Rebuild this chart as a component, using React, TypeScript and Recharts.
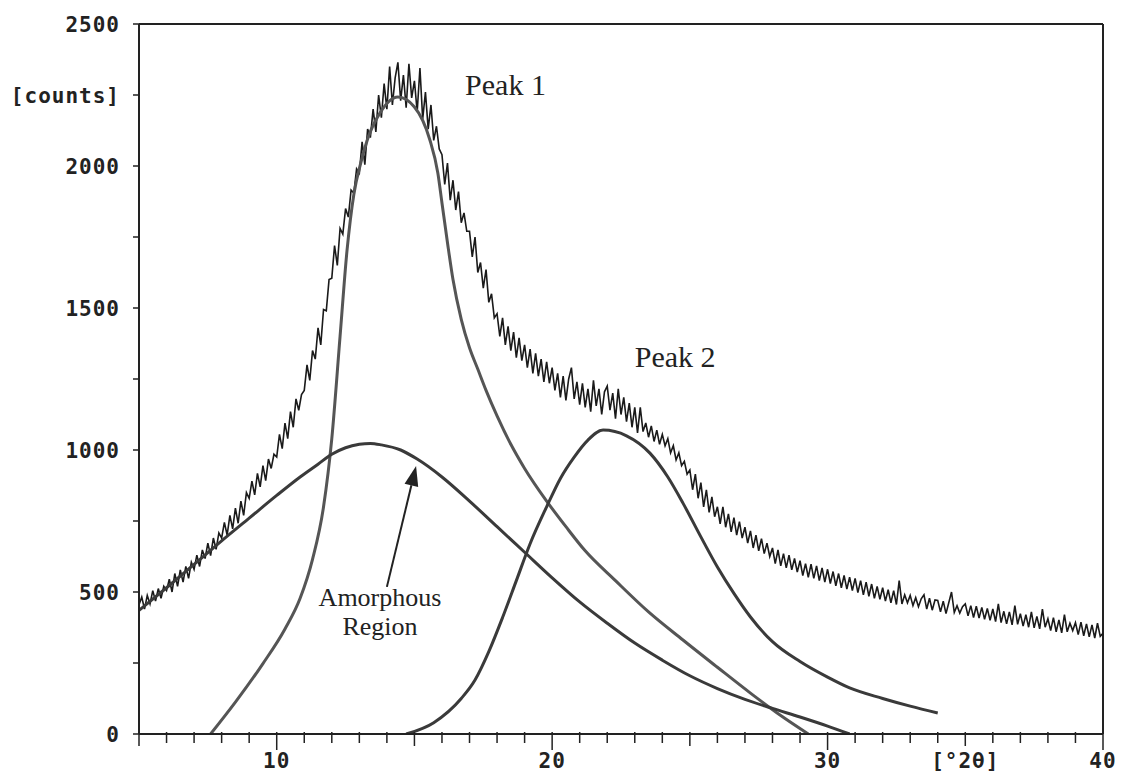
import React from 'react';
import { LineChart, Line, XAxis, YAxis, ReferenceLine, ReferenceDot } from 'recharts';

// measured scan, one value every 0.1 °2θ starting at 5
const SCAN_START = 5;
const SCAN_STEP = 0.1;
const SCAN_COUNTS = [
  455, 482, 440, 488, 458, 505, 468, 512, 478, 520,
  505, 545, 500, 565, 520, 578, 535, 590, 548, 605,
  580, 630, 590, 648, 618, 672, 628, 690, 650, 708,
  690, 745, 700, 770, 722, 795, 742, 820, 770, 850,
  830, 890, 842, 918, 870, 945, 892, 968, 935, 985,
  975, 1055, 1005, 1095, 1040, 1135, 1080, 1180, 1140, 1195,
  1210, 1300, 1245, 1350, 1320, 1430, 1370, 1495, 1490, 1600,
  1605, 1720, 1650, 1780, 1760, 1850, 1820, 1915, 1905, 1990,
  1975, 2085, 2005, 2130, 2100, 2200, 2120, 2250, 2170, 2290,
  2200, 2350, 2215, 2310, 2365, 2230, 2320, 2205, 2360, 2240,
  2300, 2190, 2345, 2165, 2260, 2130, 2215, 2090, 2140, 2060,
  2040, 1935, 2010, 1880, 1950, 1845, 1910, 1800, 1835, 1770,
  1770, 1680, 1750, 1625, 1660, 1570, 1635, 1520, 1550, 1465,
  1480, 1400, 1465, 1370, 1435, 1350, 1415, 1325, 1395, 1315,
  1370, 1290, 1355, 1270, 1340, 1260, 1320, 1240, 1310, 1235,
  1290, 1210, 1270, 1185, 1260, 1175, 1250, 1290, 1180, 1240,
  1160, 1235, 1150, 1215, 1135, 1245, 1155, 1215, 1125, 1205,
  1225, 1140, 1200, 1110, 1215, 1125, 1185, 1100, 1165, 1080,
  1150, 1060, 1150, 1065, 1095, 1045, 1085, 1030, 1070, 1020,
  1055, 1015, 1040, 990, 1015, 965, 990, 945, 960, 915,
  930, 860, 915, 830, 885, 800, 860, 780, 835, 765,
  800, 740, 800, 728, 775, 712, 762, 700, 748, 690,
  728, 672, 715, 655, 700, 645, 688, 635, 672, 625,
  655, 600, 648, 592, 635, 585, 630, 578, 618, 570,
  610, 558, 600, 552, 598, 548, 592, 540, 585, 535,
  580, 530, 572, 522, 565, 515, 558, 510, 552, 505,
  548, 498, 540, 490, 535, 485, 528, 478, 520, 474,
  515, 468, 508, 462, 505, 456, 540, 458, 490, 462,
  488, 452, 480, 448, 476, 490, 440, 478, 436, 472,
  470, 430, 468, 424, 462, 500, 428, 452, 426, 448,
  458, 416, 452, 410, 450, 408, 446, 404, 442, 400,
  440, 396, 458, 392, 432, 388, 430, 384, 452, 386,
  424, 380, 420, 376, 430, 374, 414, 370, 440, 376,
  406, 364, 410, 360, 402, 356, 420, 360, 390, 364,
  392, 350, 394, 346, 388, 342, 384, 338, 390, 344,
  355,
];

// fitted components [°2θ, counts]
const PEAK1 = [
  [7.6, 0], [8.5, 112], [9.5, 248], [10.3, 370], [10.85, 478], [11.3, 615],
  [11.7, 800], [12.0, 1040], [12.3, 1400], [12.55, 1700], [12.8, 1900],
  [13.05, 2010], [13.3, 2095], [13.75, 2187], [14.4, 2243], [15.0, 2208],
  [15.55, 2095], [15.85, 1975], [16.0, 1870], [16.2, 1730], [16.4, 1600],
  [16.7, 1460], [17.0, 1360], [17.3, 1285], [17.6, 1210], [18.0, 1120],
  [18.5, 1020], [19.0, 935], [19.8, 820], [20.5, 730], [21.2, 645],
  [22.3, 540], [23.5, 430], [24.75, 331], [26.0, 235], [27.2, 144],
  [28.3, 65], [29.3, 0],
];

const AMORPHOUS = [
  [5.0, 435], [6.0, 515], [7.0, 597], [8.0, 680], [9.0, 760], [10.0, 840],
  [10.85, 905], [11.5, 950], [12.0, 985], [12.5, 1008], [13.0, 1020],
  [13.4, 1023], [13.8, 1018], [14.5, 1000], [15.1, 968], [16.0, 905],
  [17.0, 820], [18.0, 730], [19.0, 640], [20.0, 550], [21.0, 465],
  [22.0, 390], [23.0, 320], [24.0, 260], [25.0, 205], [26.0, 160],
  [27.0, 122], [28.0, 90], [29.0, 60], [30.0, 28], [30.8, 0],
];

const PEAK2 = [
  [14.7, 0], [15.7, 40], [16.7, 125], [17.2, 190], [17.7, 290], [18.2, 410],
  [18.7, 540], [19.2, 670], [19.8, 800], [20.3, 900], [20.8, 975],
  [21.3, 1035], [21.85, 1070], [22.7, 1050], [23.55, 989], [24.2, 905],
  [24.75, 813], [25.4, 694], [26.0, 588], [26.6, 495], [27.2, 412],
  [28.0, 325], [29.0, 255], [30.0, 200], [30.8, 162], [32.0, 125],
  [33.0, 98], [34.0, 74],
];

const X_TICKS = [5, 6, 7, 8, 9, 10, 11, 12, 13, 14, 15, 16, 17, 18, 19, 20, 21, 22, 23, 24, 25,
  26, 27, 28, 29, 30, 31, 32, 33, 34, 35, 36, 37, 38, 39, 40];
const X_LABELS: Record<number, string> = { 10: '10', 20: '20', 30: '30', 35: '[°2θ]', 40: '40' };
const Y_TICKS = [0, 250, 500, 750, 1000, 1250, 1500, 1750, 2000, 2250, 2500];
const Y_LABELS: Record<number, string> = {
  0: '0', 500: '500', 1000: '1000', 1500: '1500', 2000: '2000', 2250: '[counts]', 2500: '2500',
};

const toPoints = (arr: number[][]) => arr.map(([x, y]) => ({ x, y }));
const scanData = SCAN_COUNTS.map((y, i) => ({ x: +(SCAN_START + i * SCAN_STEP).toFixed(1), y }));

const INK = '#222';
const MONO = '"DejaVu Sans Mono", monospace';
const SERIF = '"Liberation Serif", "Times New Roman", serif';

const XTick = (props: any) => {
  const { x, y, payload } = props;
  const v = payload.value;
  const len = v % 10 === 0 ? 16 : v % 5 === 0 ? 12 : 9;
  const label = X_LABELS[v];
  return (
    <g>
      <line x1={x} x2={x} y1={y - 2} y2={y + len} stroke={INK} strokeWidth={1.5} />
      {label && (
        <text x={x} y={y + 34} textAnchor="middle" fontFamily={MONO} fontWeight="bold"
          fontSize={21} letterSpacing={1} fill={INK}>{label}</text>
      )}
    </g>
  );
};

const YTick = (props: any) => {
  const { x, y, payload } = props;
  const label = Y_LABELS[payload.value];
  return (
    <g>
      <line x1={x - 6} x2={x} y1={y} y2={y} stroke={INK} strokeWidth={1.5} />
      {label && (
        <text x={x - 19} y={y} dy="0.36em" textAnchor="end" fontFamily={MONO} fontWeight="bold"
          fontSize={21} letterSpacing={1} fill={INK}>{label}</text>
      )}
    </g>
  );
};

const Arrow = (props: any) => {
  const { x1, y1, x2, y2 } = props;
  const a = Math.atan2(y2 - y1, x2 - x1);
  const hl = 20, hw = 7;
  const bx = x2 - hl * Math.cos(a), by = y2 - hl * Math.sin(a);
  const px = -Math.sin(a) * hw, py = Math.cos(a) * hw;
  return (
    <g>
      <line x1={x1} y1={y1} x2={bx} y2={by} stroke={INK} strokeWidth={2} />
      <polygon points={`${x2},${y2} ${bx + px},${by + py} ${bx - px},${by - py}`} fill={INK} />
    </g>
  );
};

const NOTES = [
  { text: 'Peak 1', x: 16.84, y: 2250, size: 30, anchor: 'start' },
  { text: 'Peak 2', x: 23.0, y: 1292, size: 30, anchor: 'start' },
  { text: 'Amorphous', x: 13.75, y: 451, size: 26, anchor: 'middle' },
  { text: 'Region', x: 13.75, y: 349, size: 26, anchor: 'middle' },
];

export default function App() {
  return (
    <div style={{ position: 'absolute', left: 0, top: 0, width: 1121, height: 774, background: '#fff' }}>
      <LineChart width={1121} height={774} margin={{ top: 24, right: 18, bottom: 0, left: 0 }}>
        <XAxis type="number" dataKey="x" domain={[5, 40]} ticks={X_TICKS} interval={0}
          allowDataOverflow tick={(p: any) => <XTick {...p} />} tickLine={false}
          tickSize={0} tickMargin={0} height={40} axisLine={{ stroke: INK, strokeWidth: 2 }} />
        <YAxis type="number" domain={[0, 2500]} ticks={Y_TICKS} interval={0} allowDataOverflow
          tick={(p: any) => <YTick {...p} />} tickLine={false} tickSize={0} tickMargin={0}
          width={139} axisLine={{ stroke: INK, strokeWidth: 2 }} />
        <ReferenceLine y={2500} stroke={INK} strokeWidth={2} />
        <ReferenceLine x={40} stroke={INK} strokeWidth={2} />
        <Line data={scanData} dataKey="y" type="linear" stroke="#1a1a1a" strokeWidth={1.6}
          dot={false} isAnimationActive={false} />
        <Line data={toPoints(PEAK1)} dataKey="y" type="monotone" stroke="#555" strokeWidth={3}
          dot={false} isAnimationActive={false} />
        <Line data={toPoints(AMORPHOUS)} dataKey="y" type="monotone" stroke="#3a3a3a" strokeWidth={3}
          dot={false} isAnimationActive={false} />
        <Line data={toPoints(PEAK2)} dataKey="y" type="monotone" stroke="#3a3a3a" strokeWidth={3}
          dot={false} isAnimationActive={false} />
        <ReferenceLine segment={[{ x: 14.0, y: 518 }, { x: 15.06, y: 944 }]} ifOverflow="visible"
          shape={(p: any) => <Arrow {...p} />} />
        {NOTES.map((n) => (
          <ReferenceDot key={n.text} x={n.x} y={n.y} r={0} ifOverflow="visible"
            shape={(p: any) => (
              <text x={p.cx} y={p.cy} textAnchor={n.anchor} fontFamily={SERIF} fontSize={n.size}
                fill={INK}>{n.text}</text>
            )} />
        ))}
      </LineChart>
    </div>
  );
}
